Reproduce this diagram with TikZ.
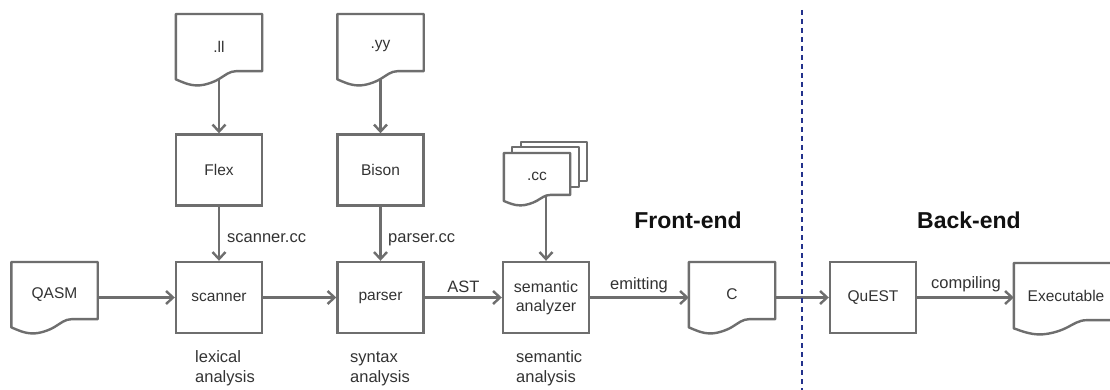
\documentclass[tikz,border=0pt]{standalone}
\usepackage{fontspec}
\setmainfont{Liberation Sans}
\usetikzlibrary{arrows.meta,calc,backgrounds}
\definecolor{ln}{RGB}{110,110,110}
\definecolor{tx}{RGB}{51,51,51}
\definecolor{hd}{RGB}{17,17,17}
\definecolor{navy}{RGB}{35,50,140}
\tikzset{
  box/.style={draw=ln, line width=2.4pt, fill=white, minimum width=86pt, minimum height=71pt,
    inner sep=0pt, text=tx, font=\fontsize{15.5}{19}\selectfont, align=center},
  docnode/.style={inner sep=0pt, minimum width=86pt, minimum height=64.6pt, anchor=north,
    text=tx, font=\fontsize{15.5}{19}\selectfont, align=center},
  docline/.style={draw=ln, line width=2.4pt, fill=white, line join=round},
  arr/.style={draw=ln, line width=2.4pt, -{Straight Barb[length=7pt,width=13pt]}},
  lbl/.style={text=tx, font=\fontsize{16.5}{20}\selectfont, inner sep=0pt},
  head/.style={text=hd, font=\bfseries\fontsize{23}{26}\selectfont, inner sep=0pt, anchor=base}
}
\newcommand\drawdoc[1]{%
  \draw[docline] let \p1=(#1.north west), \p2=(#1.south east), \n1={\x2-\x1}, \n2={(\y1-\y2)/0.91} in
  (\x1,\y1) -- (\x2,\y1) -- (\x2,\y1-0.8*\n2) -- (\x1+0.7*\n1,\y1-0.8*\n2)
  .. controls (\x1+0.62*\n1,\y1-0.8*\n2) and (\x1+0.57*\n1,\y1-0.86*\n2) .. (\x1+0.5*\n1,\y1-0.91*\n2)
  .. controls (\x1+0.43*\n1,\y1-0.96*\n2) and (\x1+0.33*\n1,\y1-\n2) .. (\x1+0.25*\n1,\y1-\n2)
  .. controls (\x1+0.15*\n1,\y1-\n2) and (\x1+0.07*\n1,\y1-0.95*\n2) .. (\x1,\y1-0.915*\n2) -- cycle;}
\begin{document}
\begin{tikzpicture}[x=1pt, y=-1pt]
\useasboundingbox (0,0) rectangle (1110,390);

% document nodes
\node[docnode] (ll) at (219,14) {.ll};
\node[docnode] (yy) at (380.5,14) {.yy};
\node[docnode] (QASM) at (54.5,262) {QASM};
\node[docnode] (C) at (732,262) {C};
\node[docnode, minimum width=104pt] (Exe) at (1066,263) {Executable};
\node[docnode, minimum width=66pt, minimum height=47.3pt] (cc) at (537,153) {.cc};
\coordinate (ccb) at (546,196);

\begin{pgfonlayer}{background}
  \clip (0,0) rectangle (1110,390);
  \fill[white] (0,0) rectangle (1110,390);
  \drawdoc{ll}
  \drawdoc{yy}
  \drawdoc{QASM}
  \drawdoc{C}
  \drawdoc{Exe}
  \draw[docline] (521,142) rectangle (587,181);
  \draw[docline] (512,147) rectangle (579,187);
  \drawdoc{cc}
\end{pgfonlayer}

% process boxes
\node[box] (Flex) at (219,170) {Flex};
\node[box] (Bison) at (380.5,170) {Bison};
\node[box] (scanner) at (219,297.5) {scanner};
\node[box] (parser) at (380.5,297.5) {parser};
\node[box, font=\fontsize{16}{19}\selectfont] (sem) at (546,297.5) {semantic\\analyzer};
\node[box] (QuEST) at (873,297.5) {QuEST};

% connectors
\draw[arr] (ll.south) -- (Flex.north);
\draw[arr] (yy.south) -- (Bison.north);
\draw[arr] (Flex.south) -- (scanner.north);
\draw[arr] (Bison.south) -- (parser.north);
\draw[arr] (ccb) -- (ccb |- sem.north);
\draw[arr] (QASM.east |- scanner.west) -- (scanner.west);
\draw[arr] (scanner.east) -- (parser.west);
\draw[arr] (parser.east) -- (sem.west);
\draw[arr] (sem.east) -- (C.west |- sem.east);
\draw[arr] (C.east |- QuEST.west) -- (QuEST.west);
\draw[arr] (QuEST.east) -- (Exe.west |- QuEST.east);

% labels
\node[lbl, anchor=base west] (scc) at (227,242) {scanner.cc};
\node[lbl, anchor=base west] (pcc) at (388,242) {parser.cc};
\node[lbl, anchor=base] (ast) at (463.5,292) {AST};
\node[lbl, anchor=base] (emit) at (639,289) {emitting};
\node[lbl, anchor=base] (comp) at (966,288.5) {compiling};
\node[lbl, align=left, anchor=base west] (lex) at (195,382) {lexical\\analysis};
\node[lbl, align=left, anchor=base west] (syn) at (350,382) {syntax\\analysis};
\node[lbl, align=left, anchor=base west] (sman) at (516,382) {semantic\\analysis};
\node[head] (fe) at (688,228) {Front-end};
\node[head] (be) at (969,228) {Back-end};

% divider
\draw[navy, line width=2.5pt, dash pattern=on 5pt off 4pt] (802,10) -- (802,390);
\end{tikzpicture}
\end{document}
